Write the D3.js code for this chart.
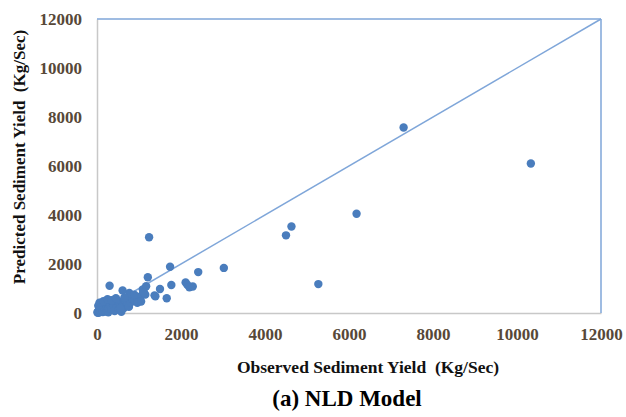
<!DOCTYPE html>
<html>
<head>
<meta charset="utf-8">
<script src="https://cdn.jsdelivr.net/npm/d3@7"></script>
<style>
  body { margin: 0; background: #fff; }
  text { font-family: "Liberation Serif", "Times New Roman", serif; font-weight: bold; }
</style>
</head>
<body>
<script>
// observed vs predicted sediment yield (Kg/Sec)
var observed = [
  10, 20, 30, 40, 50, 60, 70, 80, 90, 100, 110, 120, 130, 140, 150, 160, 170, 180, 190, 200,
  210, 220, 230, 240, 250, 260, 270, 280, 300, 320, 340, 360, 380, 400, 420, 440, 460, 480, 500, 520,
  540, 560, 580, 600, 620, 640, 660, 680, 700, 720, 740, 760, 780, 800, 820, 850, 880, 900, 950, 1000,
  1050, 1100, 1150, 1000, 960, 460, 770, 890, 1050, 1090, 1170, 1120, 1370,
  30, 60, 150, 250, 350, 450, 550, 650,
  300, 610, 1210, 1240, 1390, 1500, 1660, 1740, 1770, 2110, 2150, 2200, 2280, 2410, 3020,
  4500, 4630, 5270, 6180, 7300, 10330
];
var predicted = [
  20, 50, 10, 80, 150, 30, 200, 100, 60, 250, 320, 180, 90, 40, 280, 350, 130, 220, 400, 300,
  60, 160, 380, 250, 120, 420, 30, 200, 350, 280, 180, 420, 450, 300, 80, 520, 380, 250, 480, 150,
  400, 330, 50, 450, 280, 200, 380, 480, 300, 420, 350, 250, 500, 430, 650, 560, 700, 500, 620, 580,
  700, 850, 750, 480, 420, 540, 820, 750, 470, 960, 1090, 840, 720,
  300, 420, 480, 560, 520, 600, 180, 620,
  1110, 920, 1460, 3090, 680, 980, 600, 1890, 1140, 1250, 1150, 1050, 1080, 1670, 1840,
  3170, 3530, 1180, 4050, 7570, 6100
];
var xTicks = [0, 2000, 4000, 6000, 8000, 10000, 12000];
var yTicks = [0, 2000, 4000, 6000, 8000, 10000, 12000];
var lineEnds = [0, 12000];

var W = 626, H = 417;
var margin = {top: 19, right: 25, bottom: 104, left: 97};
var width = W - margin.left - margin.right,
    height = H - margin.top - margin.bottom;

var svg = d3.select("body").append("svg")
  .attr("width", W)
  .attr("height", H);

var g = svg.append("g")
  .attr("transform", "translate(" + margin.left + "," + margin.top + ")");

var x = d3.scaleLinear().domain([0, 12000]).range([0, width]);
var y = d3.scaleLinear().domain([0, 12000]).range([height, 0]);

var tickColor = "#574838";

var xAxis = d3.axisBottom(x).tickValues(xTicks).tickFormat(d3.format("d")).tickSize(0).tickPadding(15);
var yAxis = d3.axisLeft(y).tickValues(yTicks).tickFormat(d3.format("d")).tickSize(0).tickPadding(15);

var gx = g.append("g")
  .attr("class", "x axis")
  .attr("transform", "translate(0," + height + ")")
  .call(xAxis);
var gy = g.append("g")
  .attr("class", "y axis")
  .call(yAxis);

[gx, gy].forEach(function(a) {
  a.select(".domain").attr("stroke", "#c8c8c8").attr("stroke-width", 1.5);
  a.selectAll("text")
    .style("font-size", "17px")
    .style("font-family", "'Liberation Serif', serif")
    .style("font-weight", "bold")
    .attr("fill", tickColor);
});

var lineColor = "#7fa6d9";

// 1:1 line plus top and right edges
g.append("line")
  .attr("x1", x(lineEnds[0])).attr("y1", y(lineEnds[0]))
  .attr("x2", x(lineEnds[1])).attr("y2", y(lineEnds[1]))
  .attr("stroke", lineColor).attr("stroke-width", 1.5);
g.append("line")
  .attr("x1", x(0)).attr("y1", y(12000))
  .attr("x2", x(12000)).attr("y2", y(12000))
  .attr("stroke", lineColor).attr("stroke-width", 1.5);
g.append("line")
  .attr("x1", x(12000)).attr("y1", y(12000))
  .attr("x2", x(12000)).attr("y2", y(0))
  .attr("stroke", lineColor).attr("stroke-width", 1.5);

g.append("g")
  .selectAll("circle")
  .data(observed)
  .join("circle")
  .attr("cx", function(d) { return x(d); })
  .attr("cy", function(d, i) { return y(predicted[i]); })
  .attr("r", 4.2)
  .attr("fill", "#4a7dbd");

svg.append("text")
  .attr("x", 368)
  .attr("y", 373)
  .attr("text-anchor", "middle")
  .style("font-size", "17.5px")
  .attr("fill", "#111")
  .text("Observed Sediment Yield\u00a0 (Kg/Sec)");

svg.append("text")
  .attr("transform", "translate(25,157) rotate(-90)")
  .attr("text-anchor", "middle")
  .style("font-size", "17px")
  .attr("fill", "#111")
  .text("Predicted Sediment Yield\u00a0 (Kg/Sec)");

svg.append("text")
  .attr("x", 347)
  .attr("y", 406)
  .attr("text-anchor", "middle")
  .style("font-size", "23px")
  .attr("fill", "#000")
  .text("(a) NLD Model");
</script>
</body>
</html>
